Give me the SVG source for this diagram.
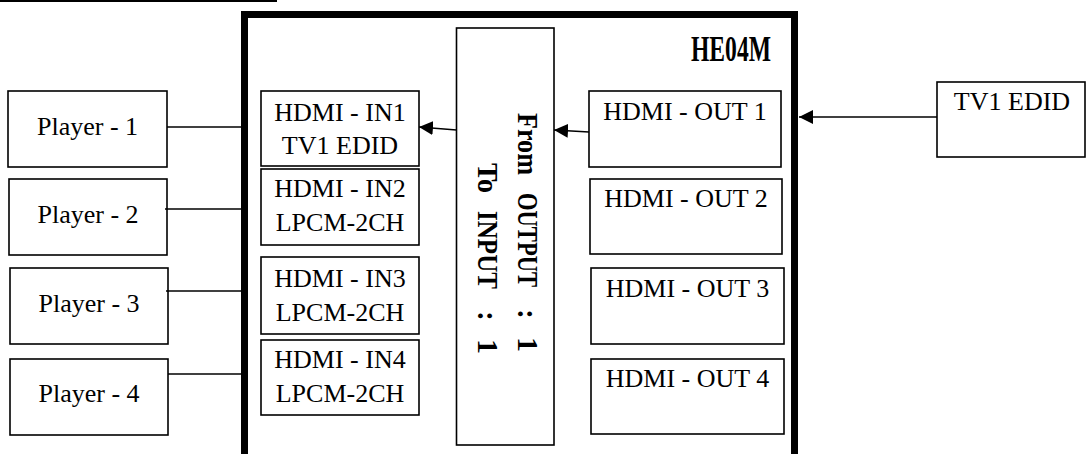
<svg xmlns="http://www.w3.org/2000/svg" width="1087" height="454" viewBox="0 0 1087 454">
<defs>
<style>
.box{fill:#fff;stroke:#000;stroke-width:1.6}
.t{font-family:"Liberation Serif","Times New Roman",serif;font-size:26px;fill:#000;text-anchor:middle}
.v{font-family:"Liberation Serif","Times New Roman",serif;font-weight:bold;font-size:30px;fill:#000}
.ln{stroke:#000;stroke-width:1.6;fill:none}
</style>
<marker id="ah" viewBox="0 0 14 14" refX="14" refY="7" markerWidth="14" markerHeight="14" markerUnits="userSpaceOnUse" orient="auto">
<path d="M0,0 L14,7 L0,14 Z" fill="#000"/>
</marker>
</defs>
<rect width="1087" height="454" fill="#fff"/>
<line x1="0" y1="1" x2="277" y2="1" stroke="#000" stroke-width="2"/>

<g id="he04m">
<rect x="244.5" y="14.5" width="550" height="470" fill="#fff" stroke="#000" stroke-width="7"/>
<text x="691" y="61" font-family="'Liberation Serif','Times New Roman',serif" font-weight="bold" font-size="36" textLength="80" lengthAdjust="spacingAndGlyphs">HE04M</text>
</g>

<g id="player1"><rect class="box" x="8" y="91" width="159" height="76"/><text class="t" x="87.5" y="135">Player - 1</text></g>
<g id="player2"><rect class="box" x="9" y="179" width="158" height="76"/><text class="t" x="88" y="223">Player - 2</text></g>
<g id="player3"><rect class="box" x="10" y="268" width="158" height="76"/><text class="t" x="89" y="312">Player - 3</text></g>
<g id="player4"><rect class="box" x="10" y="359" width="158" height="76"/><text class="t" x="89" y="402">Player - 4</text></g>

<g id="in1"><rect class="box" x="261" y="91" width="158" height="75"/><text class="t" x="340" y="121">HDMI - IN1</text><text class="t" x="340" y="154">TV1 EDID</text></g>
<g id="in2"><rect class="box" x="261" y="169" width="158" height="76"/><text class="t" x="340" y="197">HDMI - IN2</text><text class="t" x="340" y="231">LPCM-2CH</text></g>
<g id="in3"><rect class="box" x="261" y="257" width="158" height="77"/><text class="t" x="340" y="287">HDMI - IN3</text><text class="t" x="340" y="321">LPCM-2CH</text></g>
<g id="in4"><rect class="box" x="261" y="340" width="158" height="75"/><text class="t" x="340" y="368">HDMI - IN4</text><text class="t" x="340" y="402">LPCM-2CH</text></g>

<g id="matrix">
<rect class="box" x="456.5" y="28" width="97.5" height="417"/>
<text class="v" transform="translate(518,112) rotate(90)"><tspan x="1" y="0" textLength="62" lengthAdjust="spacingAndGlyphs">From</tspan><tspan x="81" y="0" textLength="94" lengthAdjust="spacingAndGlyphs">OUTPUT</tspan><tspan x="197" y="0">:</tspan><tspan x="225" y="0">1</tspan></text>
<text class="v" transform="translate(478,162) rotate(90)"><tspan x="1" y="0" textLength="30" lengthAdjust="spacingAndGlyphs">To</tspan><tspan x="49" y="0" textLength="78" lengthAdjust="spacingAndGlyphs">INPUT</tspan><tspan x="149" y="0">:</tspan><tspan x="177" y="0">1</tspan></text>
</g>

<g id="out1"><rect class="box" x="589" y="91" width="192" height="76"/><text class="t" x="685" y="120">HDMI - OUT 1</text></g>
<g id="out2"><rect class="box" x="590" y="179" width="192" height="75"/><text class="t" x="686" y="207">HDMI - OUT 2</text></g>
<g id="out3"><rect class="box" x="591" y="268" width="193" height="76"/><text class="t" x="687.5" y="297">HDMI - OUT 3</text></g>
<g id="out4"><rect class="box" x="591" y="359" width="193" height="75"/><text class="t" x="687.5" y="387">HDMI - OUT 4</text></g>

<g id="tv1"><rect class="box" x="937" y="82" width="148" height="75"/><text class="t" x="1012" y="110">TV1 EDID</text></g>

<g id="connectors">
<line class="ln" x1="167" y1="127" x2="241" y2="127"/>
<line class="ln" x1="165" y1="209" x2="241" y2="209"/>
<line class="ln" x1="166" y1="291" x2="241" y2="291"/>
<line class="ln" x1="168" y1="374" x2="241" y2="374"/>
<line class="ln" x1="937" y1="117" x2="799" y2="117" marker-end="url(#ah)"/>
<line class="ln" x1="589" y1="132" x2="554" y2="130" marker-end="url(#ah)"/>
<line class="ln" x1="456.5" y1="130" x2="419" y2="127" marker-end="url(#ah)"/>
</g>
</svg>
